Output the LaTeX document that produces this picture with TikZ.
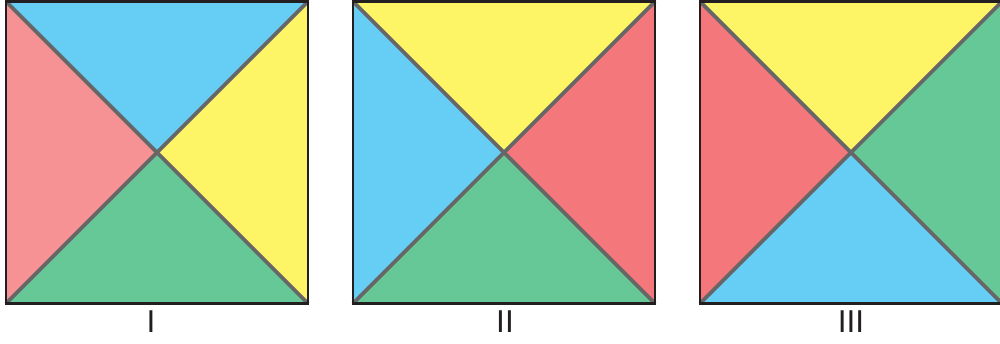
\documentclass[tikz,border=0pt]{standalone}
\usepackage{fontspec}
\setmainfont{Liberation Sans}
\definecolor{tblue}{HTML}{66CDF5}
\definecolor{tyellow}{HTML}{FEF566}
\definecolor{tgreen}{HTML}{66C896}
\definecolor{tpink}{HTML}{F69194}
\definecolor{tred}{HTML}{F3777B}
\definecolor{tdiag}{HTML}{666666}
\definecolor{tink}{HTML}{231F20}

\begin{document}
\begin{tikzpicture}[x=0.02cm, y=-0.02cm, font=\fontsize{18}{20}\selectfont,
  diag/.style={draw=tdiag, line width=2.1pt},
  frame/.style={draw=tink, line width=1.4pt, line join=miter},
  caption/.style={text=tink, inner sep=0pt}]
  \useasboundingbox (0,0) rectangle (1000,343);
  % cx / label x / label / top / left / bottom / right
  \foreach \cx/\lx/\lab/\ct/\cl/\cb/\cr in {157/151/I/tblue/tpink/tgreen/tyellow,
      504/505/II/tyellow/tblue/tgreen/tred, 851/851/III/tyellow/tred/tblue/tgreen} {
    \coordinate (nw) at (\cx-151,1.5);
    \coordinate (ne) at (\cx+151,1.5);
    \coordinate (sw) at (\cx-151,303.5);
    \coordinate (se) at (\cx+151,303.5);
    \coordinate (m) at (\cx,152.5);
    % triangles
    \fill[\ct] (nw) -- (ne) -- (m) -- cycle;
    \fill[\cl] (nw) -- (sw) -- (m) -- cycle;
    \fill[\cb] (sw) -- (se) -- (m) -- cycle;
    \fill[\cr] (ne) -- (se) -- (m) -- cycle;
    \draw[diag] (nw) -- (se);
    \draw[diag] (ne) -- (sw);
    \draw[frame] (nw) rectangle (se);
    \node[caption] (lab\lab) at (\lx,322) {\lab};
  }
\end{tikzpicture}
\end{document}
